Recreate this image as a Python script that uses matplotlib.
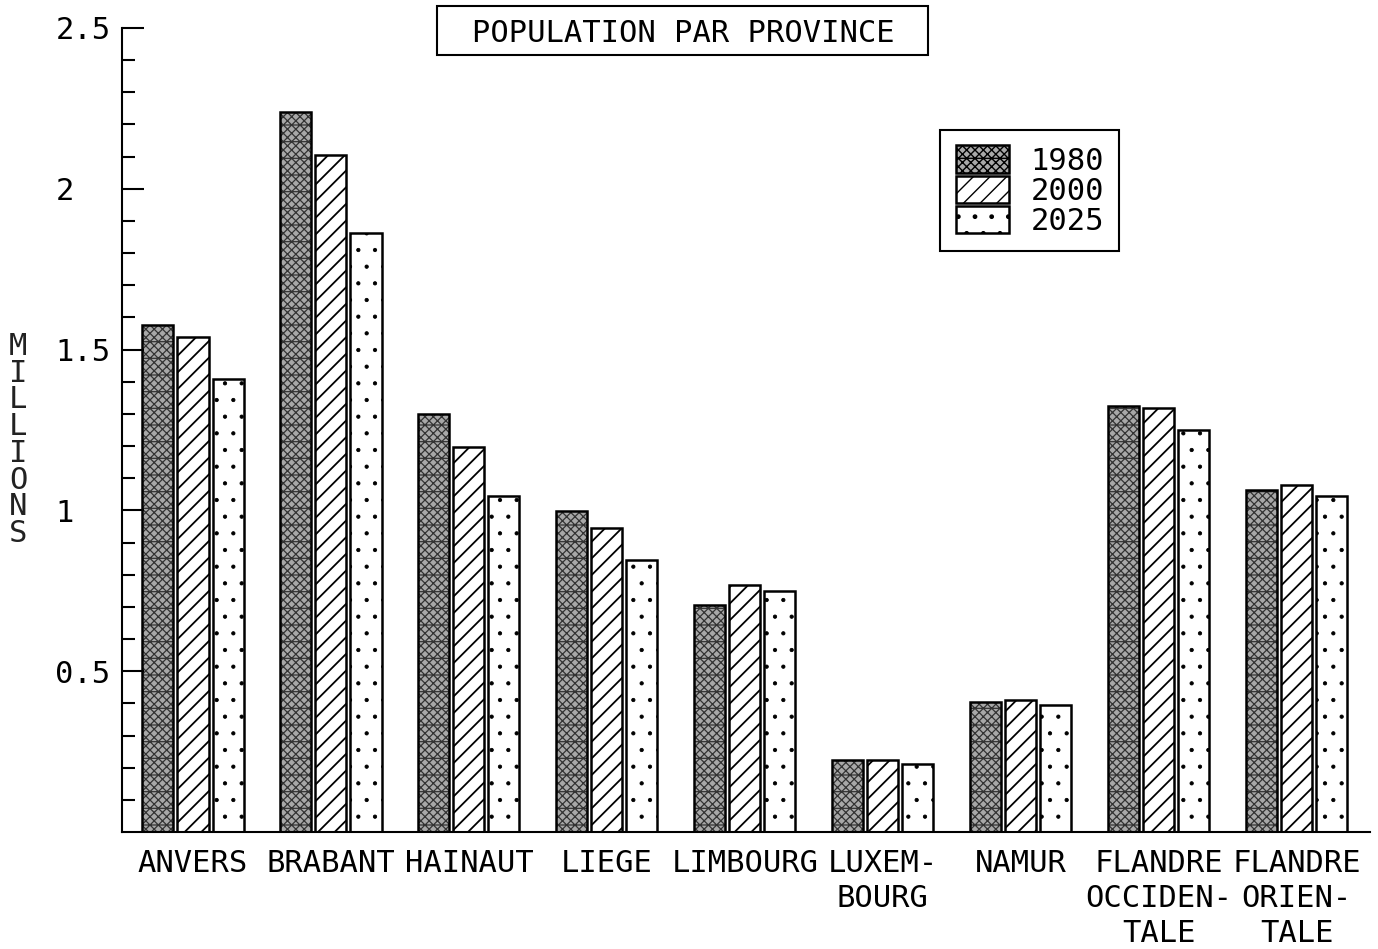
import numpy as np
import matplotlib.pyplot as plt
from matplotlib.patches import Patch, Rectangle

# provinces et populations (millions)
provinces = ["ANVERS", "BRABANT", "HAINAUT", "LIEGE", "LIMBOURG",
             "LUXEM-\nBOURG", "NAMUR", "FLANDRE\nOCCIDEN-\nTALE",
             "FLANDRE\nORIEN-\nTALE"]
pop_1980 = [1.575, 2.24, 1.30, 0.997, 0.706, 0.225, 0.403, 1.325, 1.062]
pop_2000 = [1.54, 2.105, 1.197, 0.944, 0.769, 0.225, 0.409, 1.319, 1.078]
pop_2025 = [1.41, 1.862, 1.044, 0.847, 0.75, 0.212, 0.394, 1.25, 1.044]
years = ["1980", "2000", "2025"]
yticks = [0.5, 1, 1.5, 2, 2.5]
ytick_labels = ["0.5", "1", "1.5", "2", "2.5"]

plt.rcParams['font.family'] = ['DejaVu Sans Mono']
FS = 22

fig = plt.figure(figsize=(13.78, 9.49), dpi=100)
ax = fig.add_axes([0.0885, 0.1233, 0.9055, 0.8472])

x = np.arange(len(provinces))
w = 0.225
step = 0.254

# styles des trois series
styles = [
    dict(facecolor='#a8a8a8', hatch='xxxx-', edgecolor='#333333'),
    dict(facecolor='white', hatch='//', edgecolor='black'),
    dict(facecolor='white', hatch='.', edgecolor='black'),
]
hatch_lw = [0.9, 1.3, 0.6]
series = [pop_1980, pop_2000, pop_2025]
handles = []
for k, (vals, st) in enumerate(zip(series, styles)):
    pos = x + (k - 1) * step
    with plt.rc_context({'hatch.linewidth': hatch_lw[k]}):
        ax.bar(pos, vals, w, linewidth=0, **st)
        handles.append(Patch(label=years[k], linewidth=1.8,
                             **{**st, 'edgecolor': 'black'}))
    ax.bar(pos, vals, w, facecolor='none', edgecolor='black', linewidth=1.8)

ax.set_xlim(-0.515, 8.53)
ax.set_ylim(0, 2.5)
ax.set_xticks(x)
ax.set_xticklabels(provinces, fontsize=FS, linespacing=1.27)
ax.tick_params(axis='x', length=0, pad=12)

ax.set_yticks(yticks)
ax.set_yticklabels(ytick_labels, fontsize=FS)
ax.set_yticks(np.arange(0.1, 2.5, 0.1), minor=True)
ax.tick_params(axis='y', which='major', direction='in', length=16, width=1.5, pad=48)
ax.tick_params(axis='y', which='minor', direction='in', length=9, width=1.5)
for lab in ax.get_yticklabels():
    lab.set_horizontalalignment('left')

for s in ['top', 'right']:
    ax.spines[s].set_visible(False)
for s in ['left', 'bottom']:
    ax.spines[s].set_linewidth(1.5)

# etiquette verticale lettre par lettre
fig.text(18 / 1378, 1 - 440 / 949, "\n".join("MILLIONS"), fontsize=FS,
         ha='center', va='center', linespacing=0.9, color='#222222')

# titre encadre
fig.text(683 / 1378, 1 - 33 / 949, "POPULATION PAR PROVINCE", fontsize=FS,
         ha='center', va='center')
fig.patches.append(Rectangle((437 / 1378, 1 - 55 / 949), 491 / 1378, 49 / 949,
                             transform=fig.transFigure, fill=False,
                             edgecolor='black', linewidth=1.5))

leg = ax.legend(handles=handles, loc='upper left', bbox_to_anchor=(0.656, 0.873),
                fontsize=FS, handlelength=1.75, handleheight=1.0,
                labelspacing=0.0, handletextpad=0.7, borderpad=0.5,
                borderaxespad=0, fancybox=False, framealpha=1, edgecolor='black')
leg.get_frame().set_linewidth(1.5)

fig.savefig("out.png", dpi=100)
